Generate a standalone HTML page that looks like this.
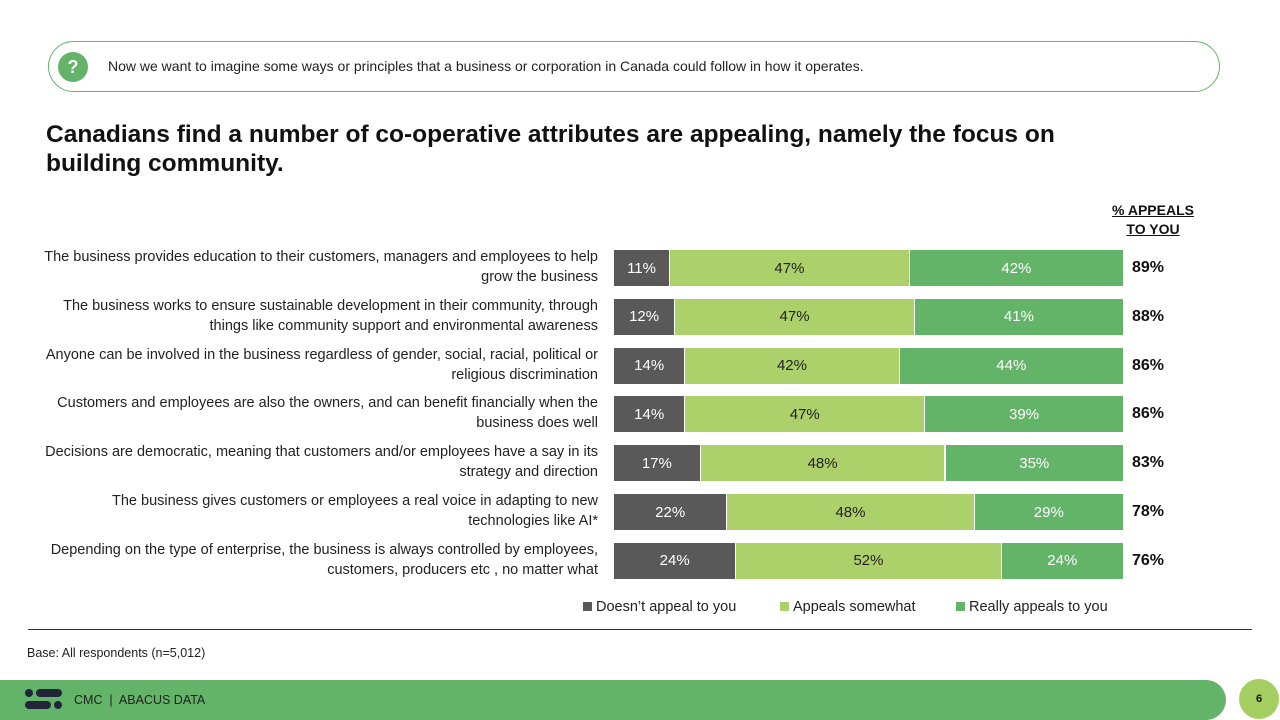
<!DOCTYPE html>
<html><head><meta charset="utf-8"><style>
body{margin:0;width:1280px;height:720px;position:relative;overflow:hidden;background:#fff;font-family:"Liberation Sans",sans-serif;color:#111}
.abs{position:absolute}
.lbl{position:absolute;right:682px;width:580px;text-align:right;font-size:14.5px;line-height:20px;color:#222}
.bar{position:absolute;height:36px;display:flex;align-items:center;justify-content:center;font-size:15px}
.tot{position:absolute;left:1132px;font-weight:bold;font-size:16px}
</style></head><body>
<div class="abs" style="left:48px;top:41px;width:1170px;height:49px;border:1px solid #63b468;border-radius:26px"></div>
<div class="abs" style="left:58px;top:52px;width:30px;height:30px;border-radius:50%;background:#63b468;color:#fff;font-weight:bold;font-size:18px;text-align:center;line-height:30px">?</div>
<div class="abs" style="left:108px;top:58px;font-size:14px;color:#222">Now we want to imagine some ways or principles that a business or corporation in Canada could follow in how it operates.</div>
<div class="abs" style="left:46px;top:120px;font-size:24.5px;font-weight:bold;line-height:29px;width:1110px">Canadians find a number of co-operative attributes are appealing, namely the focus on building community.</div>
<div class="abs" style="left:1100px;top:201px;width:106px;text-align:center;font-weight:bold;font-size:14px;line-height:19px;text-decoration:underline">% APPEALS<br>TO YOU</div>
<div id="chart"></div>
<div class="abs" style="left:583px;top:599px;font-size:14.5px;color:#222;display:flex;gap:0">
<span style="width:197px"><span style="display:inline-block;width:9px;height:9px;background:#595959;margin-right:4px"></span>Doesn’t appeal to you</span>
<span style="width:176px"><span style="display:inline-block;width:9px;height:9px;background:#add16a;margin-right:4px"></span>Appeals somewhat</span>
<span><span style="display:inline-block;width:9px;height:9px;background:#63b468;margin-right:4px"></span>Really appeals to you</span></div>
<div class="abs" style="left:28px;top:629px;width:1224px;height:1px;background:#333"></div>
<div class="abs" style="left:27px;top:646px;font-size:12.5px;color:#222">Base: All respondents (n=5,012)</div>
<div class="abs" style="left:0;top:680px;width:1226px;height:40px;background:#63b468;border-radius:0 20px 20px 0"></div>
<div class="abs" style="left:25px;top:689px;width:38px;height:22px">
<div class="abs" style="left:0;top:0;width:8px;height:8px;border-radius:4px;background:#22253a"></div>
<div class="abs" style="left:11px;top:0;width:26px;height:8px;border-radius:4px;background:#22253a"></div>
<div class="abs" style="left:0;top:12px;width:26px;height:8px;border-radius:4px;background:#22253a"></div>
<div class="abs" style="left:29px;top:12px;width:8px;height:8px;border-radius:4px;background:#22253a"></div></div>
<div class="abs" style="left:74px;top:693px;font-size:12.5px;color:#222">CMC &nbsp;|&nbsp; ABACUS DATA</div>
<div class="abs" style="left:1239px;top:679px;width:40px;height:40px;border-radius:50%;background:#a5cf62;font-size:11px;font-weight:bold;text-align:center;line-height:40px">6</div>
<script>
const labels=[["The business provides education to their customers, managers and employees to help","grow the business"],["The business works to ensure sustainable development in their community, through","things like community support and environmental awareness"],["Anyone can be involved in the business regardless of gender, social, racial, political or","religious discrimination"],["Customers and employees are also the owners, and can benefit financially when the","business does well"],["Decisions are democratic, meaning that customers and/or employees have a say in its","strategy and direction"],["The business gives customers  or employees a real voice in adapting to new","technologies like AI*"],["Depending on the type of enterprise, the business is always controlled by employees,","customers, producers etc , no matter what"]];
const notAppeal=[11,12,14,14,17,22,24];
const somewhat=[47,47,42,47,48,48,52];
const really=[42,41,44,39,35,29,24];
const totals=[89,88,86,86,83,78,76];
const colors=["#595959","#add16a","#63b468"];
const x0=614,W=510,y0=250,step=48.8;
const c=document.getElementById('chart');
labels.forEach((l,i)=>{
 const y=y0+i*step;
 const d=document.createElement('div');d.className='lbl';d.style.top=(y-3)+'px';d.innerHTML=l[0]+'<br>'+l[1];
 
 
 c.appendChild(d);
 const vals=[notAppeal[i],somewhat[i],really[i]];const sum=vals[0]+vals[1]+vals[2];
 let x=x0;
 vals.forEach((v,j)=>{
  const w=v/sum*W;
  const b=document.createElement('div');b.className='bar';
  b.style.left=x+'px';b.style.top=y+'px';b.style.width=(w-1)+'px';b.style.background=colors[j];
  b.style.color=j==1?'#222':'#fff';b.textContent=v+'%';
  
  
  c.appendChild(b);x+=w;
 });
 const t=document.createElement('div');t.className='tot';t.style.top=(y+9)+'px';t.textContent=totals[i]+'%';
 
 
 c.appendChild(t);
});
</script>
</body></html>
